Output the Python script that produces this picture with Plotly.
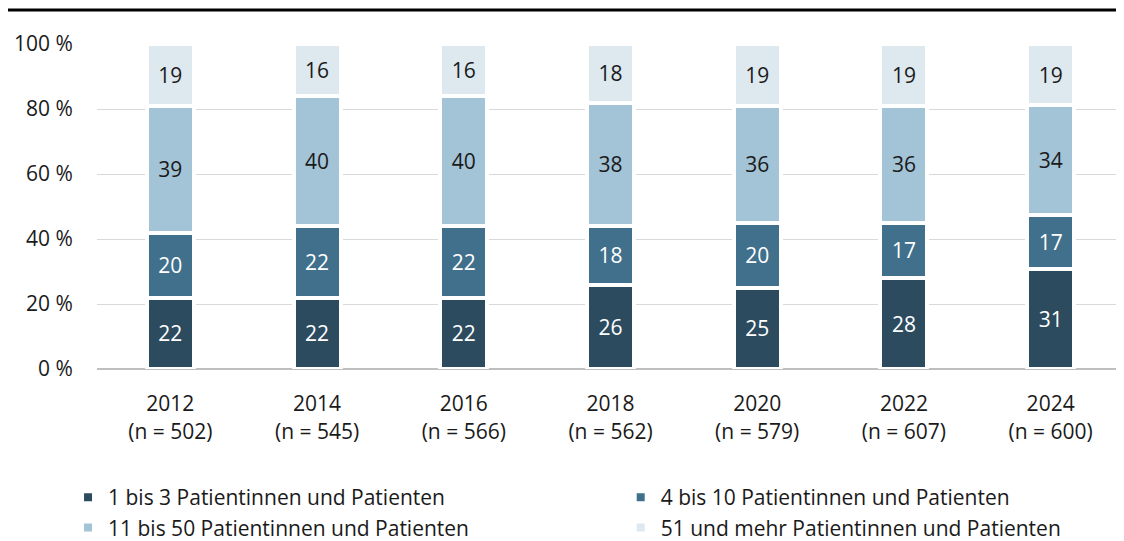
import plotly.graph_objects as go

years = ["2012", "2014", "2016", "2018", "2020", "2022", "2024"]
n_values = [502, 545, 566, 562, 579, 607, 600]
series_names = [
    "1 bis 3 Patientinnen und Patienten",
    "4 bis 10 Patientinnen und Patienten",
    "11 bis 50 Patientinnen und Patienten",
    "51 und mehr Patientinnen und Patienten",
]
s1_3 = [22, 22, 22, 26, 25, 28, 31]
s4_10 = [20, 22, 22, 18, 20, 17, 17]
s11_50 = [39, 40, 40, 38, 36, 36, 34]
s51 = [19, 16, 16, 18, 19, 19, 19]
y_ticks = [0, 20, 40, 60, 80, 100]
y_ticktext = [f"{v} %" for v in y_ticks]

colors = ["#2c4b5f", "#41708c", "#a3c3d6", "#dde8ef"]
text_colors = ["white", "white", "#1a1a1a", "#1a1a1a"]
legend_ids = ["legend", "legend2", "legend", "legend2"]

categories = [f"{y}<br>(n = {n})" for y, n in zip(years, n_values)]
FONT = "Open Sans"
FS = 21

fig = go.Figure()
for i, (name, vals, c, tc, lg) in enumerate(zip(series_names, [s1_3, s4_10, s11_50, s51],
                                                colors, text_colors, legend_ids)):
    fig.add_trace(go.Bar(
        x=categories, y=vals, name=name,
        marker=dict(color=c, line=dict(color="white", width=4)),
        text=[str(v) for v in vals], textposition="inside",
        insidetextanchor="middle", textangle=0,
        textfont=dict(color=tc, size=FS, family=FONT),
        width=0.32, legend=lg, legendgroup=f"g{i}",
    ))

legend_common = dict(
    orientation="v", xref="container", yref="container",
    yanchor="top", y=0.120, xanchor="left",
    font=dict(size=FS, family=FONT, color="#1a1a1a"),
    traceorder="normal", tracegroupgap=5, bgcolor="rgba(0,0,0,0)",
)

fig.update_layout(
    barmode="stack", barnorm="percent",
    width=1116, height=533,
    margin=dict(l=89, r=0, t=36, b=172, autoexpand=False),
    plot_bgcolor="white", paper_bgcolor="white",
    font=dict(family=FONT, size=FS, color="#1a1a1a"),
    showlegend=True,
    legend=dict(x=0.0538, **legend_common),
    legend2=dict(x=0.549, **legend_common),
    shapes=[dict(type="line", xref="paper", yref="paper",
                 x0=-0.0867, x1=1.0, y0=1.1046, y1=1.1046,
                 line=dict(color="black", width=3))],
)
fig.update_yaxes(
    range=[0, 100], tickvals=y_ticks, ticktext=y_ticktext,
    showgrid=True, gridcolor="#d9d9d9", gridwidth=1,
    zeroline=True, zerolinecolor="#bfbfbf", zerolinewidth=1.5,
    ticks="outside", ticklen=19, tickcolor="rgba(0,0,0,0)",
    tickfont=dict(size=FS, family=FONT, color="#1a1a1a"),
    automargin=False,
)
fig.update_xaxes(
    tickfont=dict(size=FS, family=FONT, color="#1a1a1a"),
    ticks="outside", ticklen=16, tickcolor="rgba(0,0,0,0)",
    showline=False, automargin=False,
)

fig.write_html("out.html")
